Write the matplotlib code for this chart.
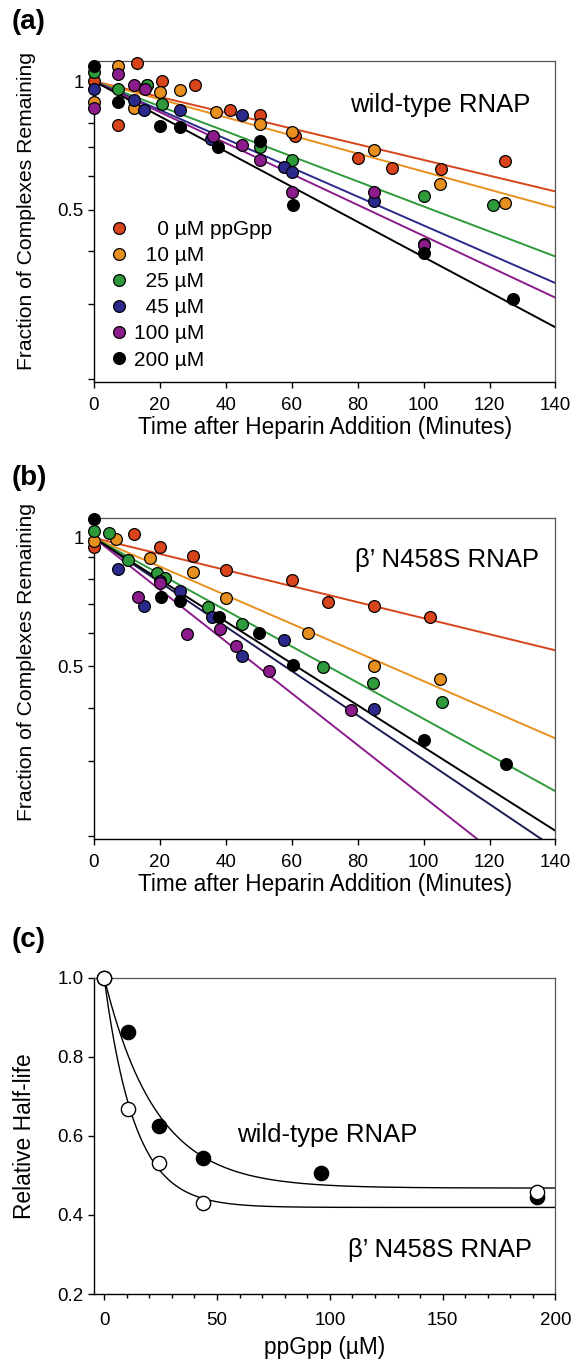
import numpy as np
import matplotlib
matplotlib.use("Agg")
import matplotlib.pyplot as plt
from matplotlib.ticker import FixedLocator, FixedFormatter, NullFormatter, MultipleLocator
from matplotlib.lines import Line2D

plt.rcParams['font.family'] = ['Liberation Sans', 'DejaVu Sans']

# ppGpp concentrations (uM) and colours
conc = [0, 10, 25, 45, 100, 200]
colors = ['#d8441c', '#e8901f', '#2e9a3a', '#2b2a8c', '#8c1b8c', '#000000']
line_colors_b = ['#d8441c', '#e8901f', '#2e9a3a', '#1c1c55', '#8c1b8c', '#000000']

# (a) wild-type RNAP, time (min) and fraction remaining
wt0_t = [0, 7.4, 13, 20.5, 30.7, 41.3, 50.4, 61, 80, 90.4, 105.4, 124.8]
wt0_y = [1.0, 0.788, 1.104, 1.0, 0.978, 0.855, 0.832, 0.742, 0.661, 0.626, 0.623, 0.649]
wt10_t = [0, 7.4, 12, 16, 20, 26, 37, 50.4, 60, 85, 105, 124.8]
wt10_y = [0.894, 1.085, 0.867, 0.978, 0.944, 0.953, 0.847, 0.792, 0.76, 0.688, 0.573, 0.517]
wt25_t = [0, 7.4, 16, 20.5, 50.4, 60, 100, 121]
wt25_y = [1.05, 0.961, 0.978, 0.886, 0.70, 0.655, 0.539, 0.513]
wt45_t = [0, 12, 15.3, 26, 35.5, 45, 57.5, 60, 85, 100]
wt45_y = [0.961, 0.902, 0.855, 0.854, 0.733, 0.832, 0.629, 0.612, 0.525, 0.416]
wt100_t = [0, 7.4, 12.2, 15.5, 36, 45, 50.4, 60, 85, 100]
wt100_y = [0.867, 1.039, 0.982, 0.961, 0.742, 0.707, 0.652, 0.549, 0.549, 0.413]
wt200_t = [0, 7.4, 20, 26, 37.5, 50.4, 60.5, 100, 127]
wt200_y = [1.085, 0.894, 0.784, 0.781, 0.70, 0.726, 0.513, 0.395, 0.308]
wt_halflife = [163, 142, 102.5, 89, 83, 73]

# (b) beta' N458S RNAP
mu0_t = [0, 12.1, 20, 30.1, 40, 60, 71, 85, 102]
mu0_y = [0.953, 1.023, 0.953, 0.906, 0.843, 0.796, 0.706, 0.691, 0.651]
mu10_t = [0, 6.7, 17, 30.1, 40, 65, 85, 105]
mu10_y = [0.983, 0.995, 0.898, 0.831, 0.723, 0.600, 0.501, 0.466]
mu25_t = [0, 4.7, 10.4, 19, 21.5, 34.7, 44.8, 69.6, 84.5, 105.5]
mu25_y = [1.038, 1.028, 0.887, 0.828, 0.806, 0.689, 0.629, 0.497, 0.456, 0.413]
mu45_t = [7.4, 15.3, 20, 26, 35.7, 45, 57.7, 85]
mu45_y = [0.846, 0.691, 0.791, 0.749, 0.652, 0.529, 0.575, 0.398]
mu100_t = [13.2, 20, 28.1, 38.2, 43, 53.2, 78]
mu100_y = [0.727, 0.785, 0.596, 0.611, 0.558, 0.488, 0.396]
mu200_t = [0, 20.2, 26, 38, 50.2, 60.5, 100, 125]
mu200_y = [1.109, 0.727, 0.710, 0.651, 0.598, 0.504, 0.336, 0.295]
mu_halflife = [160, 89.7, 71, 57.9, 49.6, 61.4]

# (c) relative half-life vs ppGpp
wt_ppgpp = [0, 10.5, 24.5, 43.7, 96.3, 191.9]
wt_rel = [1.0, 0.862, 0.624, 0.543, 0.507, 0.446]
mu_ppgpp = [0, 10.5, 24.5, 43.7, 191.9]
mu_rel = [1.0, 0.668, 0.531, 0.430, 0.459]
# fitted plateau and decay constant
wt_fit = (0.468, 23.0)
mu_fit = (0.419, 13.5)

wt_series = [(wt0_t, wt0_y), (wt10_t, wt10_y), (wt25_t, wt25_y),
             (wt45_t, wt45_y), (wt100_t, wt100_y), (wt200_t, wt200_y)]
mu_series = [(mu0_t, mu0_y), (mu10_t, mu10_y), (mu25_t, mu25_y),
             (mu45_t, mu45_y), (mu100_t, mu100_y), (mu200_t, mu200_y)]

fig = plt.figure(figsize=(5.77, 13.6), dpi=100)
ax_a = fig.add_axes([0.1629, 0.7191, 0.7998, 0.2360])
ax_b = fig.add_axes([0.1629, 0.3831, 0.7998, 0.2362])
ax_c = fig.add_axes([0.1629, 0.0485, 0.7998, 0.2326])

tk = dict(direction='out', length=4, width=1, labelsize=13.5, color='black')


def style_spines(ax):
    for s in ['left', 'bottom']:
        ax.spines[s].set_color('black')
        ax.spines[s].set_linewidth(1.0)
    for s in ['top', 'right']:
        ax.spines[s].set_color('#555555')
        ax.spines[s].set_linewidth(0.9)


def decay_panel(ax, series, halflives, lcolors):
    t = np.linspace(0, 140, 200)
    for (tt, yy), hl, lc in zip(series, halflives, lcolors):
        ax.plot(t, np.exp(-np.log(2) * t / hl), color=lc, lw=1.4, zorder=2)
    for (tt, yy), c in zip(series, colors):
        ax.scatter(tt, yy, s=72, c=c, edgecolors='black', linewidths=0.9,
                   zorder=3, clip_on=False)
    ax.set_yscale('log')
    ax.set_xlim(0, 140)
    ax.set_ylim(0.197, 1.115)
    ax.set_xticks(np.arange(0, 141, 20))
    yt = [0.2, 0.3, 0.4, 0.5, 0.6, 0.7, 0.8, 0.9, 1.0]
    ax.yaxis.set_major_locator(FixedLocator(yt))
    ax.yaxis.set_major_formatter(FixedFormatter(['', '', '', '0.5', '', '', '', '', '1']))
    ax.yaxis.set_minor_locator(FixedLocator([]))
    ax.yaxis.set_minor_formatter(NullFormatter())
    ax.tick_params(**tk)
    ax.tick_params(axis='x', pad=6.5)
    ax.set_xlabel('Time after Heparin Addition (Minutes)', fontsize=16.3, labelpad=1.8)
    ax.set_ylabel('Fraction of Complexes Remaining', fontsize=15.2)
    style_spines(ax)


decay_panel(ax_a, wt_series, wt_halflife, colors)
decay_panel(ax_b, mu_series, mu_halflife, line_colors_b)
ax_a.yaxis.set_label_coords(-0.126, 0.533)
ax_b.yaxis.set_label_coords(-0.126, 0.55)
ax_a.text(105, 0.878, 'wild-type RNAP', fontsize=18.5, ha='center', va='center')
ax_b.text(107, 0.89, "β’ N458S RNAP", fontsize=18.5, ha='center', va='center')

# legend for (a)
labels = []
for c in conc:
    num = str(c).rjust(3).replace(' ', '\u2007')
    labels.append(num + ' µM' + (' ppGpp' if c == 0 else ''))
handles = [Line2D([], [], ls='none', marker='o', markersize=8.5,
                  markerfacecolor=c, markeredgecolor='black', markeredgewidth=0.9)
           for c in colors]
ax_a.legend(handles, labels, loc='lower left', bbox_to_anchor=(0.0, 0.0),
            frameon=False, fontsize=15, handletextpad=0.1, labelspacing=0.34,
            borderaxespad=0.2, handlelength=1.2)

# (c)
x = np.linspace(0, 200, 400)
ax_c.plot(x, wt_fit[0] + (1 - wt_fit[0]) * np.exp(-x / wt_fit[1]), color='black', lw=1.0, zorder=2)
ax_c.plot(x, mu_fit[0] + (1 - mu_fit[0]) * np.exp(-x / mu_fit[1]), color='black', lw=1.0, zorder=2)
ax_c.scatter(wt_ppgpp, wt_rel, s=105, c='black', edgecolors='black', linewidths=1.0,
             zorder=3, clip_on=False)
ax_c.scatter(mu_ppgpp, mu_rel, s=105, c='white', edgecolors='black', linewidths=1.0,
             zorder=4, clip_on=False)
ax_c.set_xlim(-4.5, 200)
ax_c.set_ylim(0.2, 1.0)
ax_c.set_xticks([0, 50, 100, 150, 200])
ax_c.xaxis.set_minor_locator(MultipleLocator(10))
ax_c.set_yticks([0.2, 0.4, 0.6, 0.8, 1.0])
ax_c.set_yticklabels(['0.2', '0.4', '0.6', '0.8', '1.0'])
ax_c.tick_params(**tk)
ax_c.tick_params(axis='x', pad=9)
ax_c.tick_params(which='minor', direction='out', length=3, width=1)
ax_c.set_xlabel('ppGpp (µM)', fontsize=16.3, labelpad=5)
ax_c.set_ylabel('Relative Half-life', fontsize=16.4)
ax_c.yaxis.set_label_coords(-0.126, 0.5)
style_spines(ax_c)
ax_c.text(98.7, 0.603, 'wild-type RNAP', fontsize=18.5, ha='center', va='center')
ax_c.text(148.7, 0.311, "β’ N458S RNAP", fontsize=18.5, ha='center', va='center')

for lab, yy in [('(a)', 0.984), ('(b)', 0.6485), ('(c)', 0.309)]:
    fig.text(0.021, yy, lab, fontsize=20, fontweight='bold', ha='left', va='center')

fig.savefig('out.png', dpi=100)
